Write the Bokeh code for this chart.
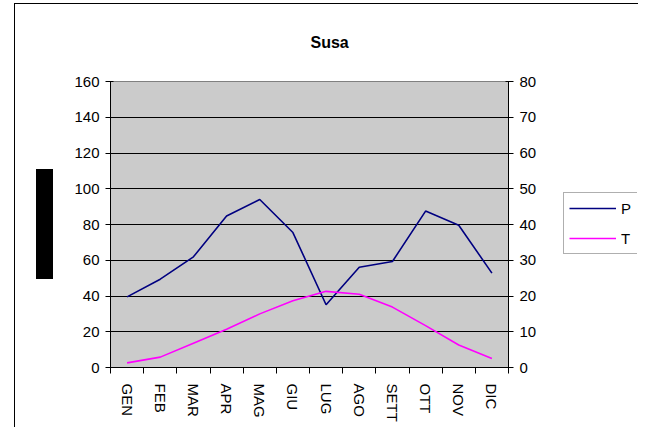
from bokeh.plotting import figure
from bokeh.layouts import row
from bokeh.models import (Range1d, LinearAxis, FixedTicker, Legend, LegendItem,
                          ColumnDataSource, Title, InlineStyleSheet)
from bokeh.embed import file_html
from bokeh.resources import INLINE

months = ["GEN", "FEB", "MAR", "APR", "MAG", "GIU", "LUG", "AGO", "SETT", "OTT", "NOV", "DIC"]
P = [39.5, 49.4, 61.9, 84.8, 94.0, 75.5, 35.1, 56.1, 59.3, 87.5, 79.6, 52.8]
T = [1.3, 2.9, 6.8, 10.7, 15.0, 18.7, 21.3, 20.5, 16.9, 11.7, 6.3, 2.5]
left_ticks = [0, 20, 40, 60, 80, 100, 120, 140, 160]
right_ticks = [0, 10, 20, 30, 40, 50, 60, 70, 80]

FONT = "Liberation Sans"
P_COLOR, T_COLOR = "#000080", "#FF00FF"
xs = [i + 0.5 for i in range(len(months))]
src = ColumnDataSource(dict(x=xs, P=P, T=T))

p = figure(width=555, height=426, output_backend="svg", toolbar_location=None,
           x_range=Range1d(0, len(months)), y_range=Range1d(0, 160),
           min_border_left=110, min_border_right=47, min_border_top=81, min_border_bottom=59,
           background_fill_color="#CBCBCB", border_fill_color="white",
           x_axis_location=None, y_axis_location=None, title=None, margin=0)
p.extra_y_ranges = {"t": Range1d(0, 80)}
p.outline_line_color = "#808080"
p.outline_line_width = 1

# title
p.add_layout(Title(text="Susa", align="left", offset=200, standoff=61, text_font=FONT,
                   text_font_size="16px", text_font_style="bold", text_color="black"), "above")

# axes
xaxis = LinearAxis(ticker=FixedTicker(ticks=xs, minor_ticks=list(range(len(months) + 1))),
                   major_label_overrides={x: m for x, m in zip(xs, months)},
                   major_label_orientation="vertical",
                   major_tick_out=0, major_tick_in=0,
                   minor_tick_out=6, minor_tick_in=0, minor_tick_line_color="black",
                   axis_line_color="black", major_label_standoff=10,
                   major_label_text_font=FONT, major_label_text_font_size="15px",
                   major_label_text_color="black")
p.add_layout(xaxis, "below")

yl = LinearAxis(ticker=FixedTicker(ticks=left_ticks, minor_ticks=[]),
                major_tick_out=5, major_tick_in=3, minor_tick_out=0, minor_tick_in=0,
                axis_line_color="black", major_tick_line_color="black",
                major_label_standoff=6, major_label_text_font=FONT,
                major_label_text_font_size="15px", major_label_text_color="black")
p.add_layout(yl, "left")

yr = LinearAxis(y_range_name="t", ticker=FixedTicker(ticks=right_ticks, minor_ticks=[]),
                major_tick_out=5, major_tick_in=3, minor_tick_out=0, minor_tick_in=0,
                axis_line_color="black", major_tick_line_color="black",
                major_label_standoff=6, major_label_text_font=FONT,
                major_label_text_font_size="15px", major_label_text_color="black")
p.add_layout(yr, "right")

p.xgrid.visible = False
p.ygrid.ticker = FixedTicker(ticks=left_ticks)
p.ygrid.grid_line_color = "black"
p.ygrid.grid_line_width = 1

p.line("x", "P", source=src, line_color=P_COLOR, line_width=1.6)
p.line("x", "T", source=src, line_color=T_COLOR, line_width=1.6, y_range_name="t")

# legend panel (key only; its series lie outside this panel's visible range)
lf = figure(width=82, height=426, output_backend="svg", toolbar_location=None,
            x_range=Range1d(-2, -1), y_range=Range1d(0, 1), min_border=0,
            x_axis_location=None, y_axis_location=None, title=None, margin=0,
            background_fill_color="white", border_fill_color="white")
lf.outline_line_color = None
lf.grid.visible = False
kp = lf.line("x", "P", source=src, line_color=P_COLOR, line_width=1.6)
kt = lf.line("x", "T", source=src, line_color=T_COLOR, line_width=1.6)
legend = Legend(items=[LegendItem(label="P", renderers=[kp]), LegendItem(label="T", renderers=[kt])],
                location=(8, 113), border_line_color="#606060", border_line_width=1,
                background_fill_color="white", background_fill_alpha=1,
                glyph_width=47, glyph_height=20, label_standoff=5, label_width=11,
                spacing=10, padding=5, margin=0, label_text_font=FONT,
                label_text_font_size="15px", label_text_color="black", label_height=20)
lf.add_layout(legend, "center")

layout = row(p, lf, spacing=0)
layout.stylesheets = [InlineStyleSheet(css="""
:host::after { content: ""; position: absolute; left: 14px; top: 3px;
  width: calc(100% - 14px); height: calc(100% - 3px);
  border-left: 1px solid black; border-top: 1px solid black;
  pointer-events: none; z-index: 10; }
:host::before { content: ""; position: absolute; left: 36px; top: 169px;
  width: 17px; height: 110px; background: black; pointer-events: none; z-index: 10; }
""")]

open("out.html", "w").write(file_html(layout, INLINE))
